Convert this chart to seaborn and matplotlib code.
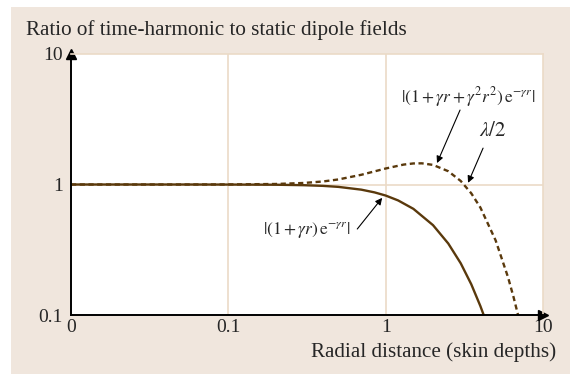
import numpy as np
import matplotlib
matplotlib.use("Agg")
import matplotlib.pyplot as plt
import matplotlib.ticker as mticker
from matplotlib.patches import Rectangle
import seaborn as sns

# values (x in skin depths, y = field ratio)
r_static = [0.01, 0.02, 0.05, 0.1, 0.2, 0.3, 0.4, 0.5, 0.7, 0.85, 1.0, 1.2, 1.5,
            2.0, 2.5, 3.0, 3.5, 4.0, 4.25, 4.5]
ratio_near = [1.0, 1.0, 1.0, 0.999, 0.996, 0.988, 0.976, 0.959, 0.913, 0.870, 0.823,
              0.755, 0.651, 0.488, 0.353, 0.249, 0.172, 0.117, 0.096, 0.079]

r_dashed = [0.01, 0.02, 0.05, 0.1, 0.2, 0.3, 0.4, 0.5, 0.7, 1.0, 1.3, 1.5, 1.7,
            2.0, 2.5, 3.0, 3.5, 4.0, 5.0, 6.0, 6.5, 7.0, 7.5]
ratio_full = [1.0, 1.0, 1.0, 1.001, 1.009, 1.027, 1.055, 1.093, 1.187, 1.326, 1.421,
              1.450, 1.453, 1.413, 1.264, 1.064, 0.856, 0.666, 0.373, 0.194, 0.137,
              0.096, 0.067]

x_ticks = [0.01, 0.1, 1, 10]
x_ticklabels = ["0", "0.1", "1", "10"]
y_ticks = [0.1, 1, 10]
y_ticklabels = ["0.1", "1", "10"]

bg = "#f0e6dd"
grid_col = "#ebdac7"
curve_col = "#5a390c"

sns.set_style("white")
plt.rcParams["font.family"] = ["Liberation Serif", "DejaVu Serif"]
plt.rcParams["mathtext.fontset"] = "stix"

fig = plt.figure(figsize=(5.7, 3.74), dpi=100)
fig.patch.set_facecolor("white")
fig.patches.append(Rectangle((11 / 570, 0), 1, 1 - 7 / 374, transform=fig.transFigure,
                             facecolor=bg, edgecolor="none", zorder=-10))

ax = fig.add_axes([71 / 570, 1 - 315 / 374, 472 / 570, 261 / 374])
ax.set_facecolor("white")

sns.lineplot(x=r_static, y=ratio_near, ax=ax, color=curve_col, lw=1.7, sort=False)
sns.lineplot(x=r_dashed, y=ratio_full, ax=ax, color=curve_col, lw=1.7, sort=False,
             linestyle=(0, (2.2, 1.5)))

ax.set_xscale("log")
ax.set_yscale("log")
ax.set_xlim(0.01, 10)
ax.set_ylim(0.1, 10)

ax.set_xticks(x_ticks)
ax.set_xticklabels(x_ticklabels)
ax.set_yticks(y_ticks)
ax.set_yticklabels(y_ticklabels)
ax.xaxis.set_minor_locator(mticker.LogLocator(base=10, subs=np.arange(2, 10)))
ax.yaxis.set_minor_locator(mticker.LogLocator(base=10, subs=np.arange(2, 10)))
ax.xaxis.set_minor_formatter(mticker.NullFormatter())
ax.yaxis.set_minor_formatter(mticker.NullFormatter())
ax.tick_params(which="major", length=0, labelsize=14)
ax.tick_params(axis="x", which="major", pad=3)
ax.tick_params(axis="y", which="major", pad=6)
ax.tick_params(which="minor", direction="in", length=7, width=1, color=grid_col)

for v in [0.1, 1]:
    ax.axvline(v, color=grid_col, lw=1.2, zorder=0)
ax.axhline(1, color=grid_col, lw=1.2, zorder=0)

for s in ["top", "right"]:
    ax.spines[s].set_color(grid_col)
    ax.spines[s].set_linewidth(1.2)
for s in ["left", "bottom"]:
    ax.spines[s].set_color("black")
    ax.spines[s].set_linewidth(1.4)
ax.plot(1, 0, ">", color="black", ms=7, transform=ax.transAxes, clip_on=False)
ax.plot(0, 1, "^", color="black", ms=7, transform=ax.transAxes, clip_on=False)

fig.text(26 / 570, 1 - 30 / 374, "Ratio of time-harmonic to static dipole fields",
         fontsize=15.2, va="center", ha="left")
fig.text(556 / 570, 1 - 352 / 374, "Radial distance (skin depths)",
         fontsize=15.2, va="center", ha="right")

arrow = dict(arrowstyle="-|>", color="black", lw=0.8, mutation_scale=10,
             shrinkA=0, shrinkB=0)
ax.text(0.6, 0.45, r"$|(1+\gamma r)\,\mathrm{e}^{-\gamma r}|$", fontsize=12.5,
        ha="right", va="center")
ax.annotate("", xy=(0.95, 0.79), xytext=(0.66, 0.456), arrowprops=arrow)

ax.text(3.34, 4.68, r"$|(1+\gamma r+\gamma^2 r^2)\,\mathrm{e}^{-\gamma r}|$",
        fontsize=12.5, ha="center", va="center")
ax.annotate("", xy=(2.12, 1.46), xytext=(2.97, 3.72), arrowprops=arrow)

ax.text(4.82, 2.57, r"$\lambda/2$", fontsize=15, ha="center", va="center")
ax.annotate("", xy=(3.34, 1.03), xytext=(4.16, 1.9), arrowprops=arrow)

fig.savefig("out.png", dpi=100, facecolor=fig.get_facecolor())
